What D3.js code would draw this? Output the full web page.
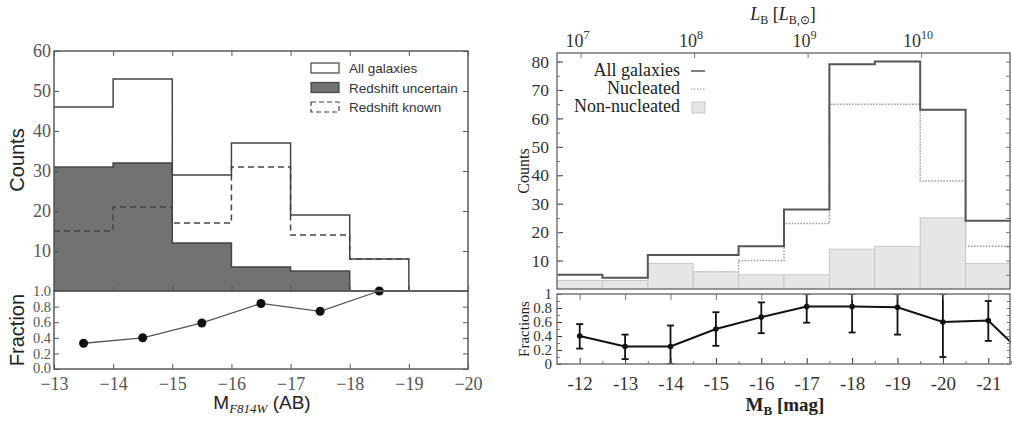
<!DOCTYPE html>
<html>
<head>
<meta charset="utf-8">
<script src="https://cdn.jsdelivr.net/npm/d3@7"></script>
<style>
  body { margin: 0; background: #fff; }
  svg text { font-family: "Liberation Serif", serif; }
</style>
</head>
<body>
<svg id="chart" width="1012" height="423"></svg>
<script>
// ---- left panel data (M_F814W) ----
const leftEdges = [-13, -14, -15, -16, -17, -18, -19];
const leftAll = [46, 53, 29, 37, 19, 8];
const leftUncertain = [31, 32, 12, 6, 5, 0];
const leftKnown = [15, 21, 17, 31, 14, 8];
const leftFracMag = [-13.5, -14.5, -15.5, -16.5, -17.5, -18.5];
const leftFrac = [0.33, 0.40, 0.59, 0.84, 0.74, 1.0];
const leftCountTicks = [10, 20, 30, 40, 50, 60];
const leftFracTicks = [0, 0.2, 0.4, 0.6, 0.8, 1.0];
const leftMagTicks = [-13, -14, -15, -16, -17, -18, -19, -20];

// ---- right panel data (M_B) ----
const rightEdges = [-11.5, -12.5, -13.5, -14.5, -15.5, -16.5, -17.5, -18.5, -19.5, -20.5, -21.5];
const rightAll = [5, 4, 12, 12, 15, 28, 79, 80, 63, 24];
const rightNuc = [2, 1, 3, 6, 10, 23, 65, 65, 38, 15];
const rightNonNuc = [3, 3, 9, 6, 5, 5, 14, 15, 25, 9];
const rightFracMag = [-12, -13, -14, -15, -16, -17, -18, -19, -20, -21, -22];
const rightFrac = [0.40, 0.25, 0.25, 0.50, 0.67, 0.82, 0.82, 0.81, 0.60, 0.62, 0.0];
const rightErrLo = [0.22, 0.07, 0.0, 0.26, 0.44, 0.59, 0.45, 0.42, 0.10, 0.33];
const rightErrHi = [0.57, 0.42, 0.55, 0.74, 0.88, 1.0, 1.0, 1.0, 1.0, 0.90];
const rightCountTicks = [10, 20, 30, 40, 50, 60, 70, 80];
const rightFracTicks = [0, 0.2, 0.4, 0.6, 0.8, 1];
const rightMagTicks = [-12, -13, -14, -15, -16, -17, -18, -19, -20, -21];
const lumDecades = [7, 8, 9, 10];
const magSunB = 5.48;

const svg = d3.select("#chart");

// turns bin edges + counts into the corner points of a step outline
function stepPoints(edges, vals) {
  let pts = [];
  vals.forEach((v, i) => {
    pts.push([edges[i], v]);
    pts.push([edges[i + 1], v]);
  });
  return pts;
}

function styleAxis(g, size, color) {
  g.select(".domain").remove();
  g.selectAll("line").attr("stroke", color);
  g.selectAll("text")
    .attr("font-family", "Liberation Serif, serif")
    .attr("font-size", size)
    .attr("fill", color);
}

// ================= LEFT PANEL =================
const xL = d3.scaleLinear().domain([-13, -20]).range([54, 468]);
const yLtop = d3.scaleLinear().domain([0, 60]).range([291, 51]);
const yLbot = d3.scaleLinear().domain([0, 1]).range([369, 291]);
const leftInk = "#444";
const leftFrame = "#5a5a5a";

svg.append("clipPath").attr("id", "clipLtop")
  .append("rect").attr("x", 54).attr("y", 51).attr("width", 414).attr("height", 240);

const lineL = d3.line().x(d => xL(d[0])).y(d => yLtop(d[1]));
const areaL = d3.area().x(d => xL(d[0])).y0(yLtop(0)).y1(d => yLtop(d[1]));

let gLt = svg.append("g").attr("clip-path", "url(#clipLtop)");
gLt.append("path")
  .attr("d", areaL(stepPoints(leftEdges, leftUncertain)))
  .attr("fill", "#727272").attr("stroke", leftInk).attr("stroke-width", 1.5);
gLt.append("path")
  .attr("d", lineL(stepPoints(leftEdges, leftKnown)))
  .attr("fill", "none").attr("stroke", leftInk).attr("stroke-width", 1.5)
  .attr("stroke-dasharray", "6,4");
let allPts = stepPoints(leftEdges, leftAll);
allPts.push([leftEdges[leftEdges.length - 1], 0]);
gLt.append("path")
  .attr("d", lineL(allPts))
  .attr("fill", "none").attr("stroke", leftInk).attr("stroke-width", 1.5);

// fraction line
svg.append("path")
  .attr("d", d3.line().x((d, i) => xL(leftFracMag[i])).y(d => yLbot(d))(leftFrac))
  .attr("fill", "none").attr("stroke", "#555").attr("stroke-width", 1.3);
svg.selectAll("circle.lf").data(leftFrac).enter().append("circle")
  .attr("class", "lf")
  .attr("cx", (d, i) => xL(leftFracMag[i]))
  .attr("cy", d => yLbot(d))
  .attr("r", 4.5).attr("fill", "#111");

// axes
let gAx = svg.append("g").attr("transform", "translate(54,0)")
  .call(d3.axisLeft(yLtop).tickValues(leftCountTicks).tickSize(-5).tickPadding(3));
styleAxis(gAx, 18, "#555");
gAx = svg.append("g").attr("transform", "translate(468,0)")
  .call(d3.axisRight(yLtop).tickValues(leftCountTicks).tickSize(-5).tickFormat(""));
styleAxis(gAx, 18, leftFrame);
gAx = svg.append("g").attr("transform", "translate(54,0)")
  .call(d3.axisLeft(yLbot).tickValues(leftFracTicks).tickSize(-5).tickPadding(3)
    .tickFormat(d3.format(".1f")));
styleAxis(gAx, 14.5, "#555");
gAx.selectAll("text").attr("dy", d => d === 0 ? "0.22em" : "0.32em");
gAx = svg.append("g").attr("transform", "translate(468,0)")
  .call(d3.axisRight(yLbot).tickValues(leftFracTicks).tickSize(-5).tickFormat(""));
styleAxis(gAx, 18, leftFrame);
gAx = svg.append("g").attr("transform", "translate(0,369)")
  .call(d3.axisBottom(xL).tickValues(leftMagTicks).tickSize(-5).tickPadding(8)
    .tickFormat(d3.format("d")));
styleAxis(gAx, 18, "#555");
gAx = svg.append("g").attr("transform", "translate(0,291)")
  .call(d3.axisBottom(xL).tickValues(leftMagTicks).tickSize(-5).tickFormat(""));
styleAxis(gAx, 18, leftFrame);
gAx = svg.append("g").attr("transform", "translate(0,51)")
  .call(d3.axisTop(xL).tickValues(leftMagTicks).tickSize(-5).tickFormat(""));
styleAxis(gAx, 18, leftFrame);

// frames
svg.append("rect").attr("x", 54).attr("y", 51).attr("width", 414).attr("height", 240)
  .attr("fill", "none").attr("stroke", leftFrame).attr("stroke-width", 1.5);
svg.append("rect").attr("x", 54).attr("y", 291).attr("width", 414).attr("height", 78)
  .attr("fill", "none").attr("stroke", leftFrame).attr("stroke-width", 1.5);

// legend
const legL = [
  {label: "All galaxies", fill: "#fff", dash: null},
  {label: "Redshift uncertain", fill: "#727272", dash: null},
  {label: "Redshift known", fill: "none", dash: "5,3"}
];
legL.forEach((d, i) => {
  let y = 68 + i * 19.5;
  svg.append("rect").attr("x", 311).attr("y", y - 5).attr("width", 28).attr("height", 10)
    .attr("fill", d.fill).attr("stroke", leftInk).attr("stroke-width", 1.2)
    .attr("stroke-dasharray", d.dash);
  svg.append("text").attr("x", 349).attr("y", y + 5)
    .style("font-family", "Liberation Sans, sans-serif").attr("font-size", 13.5)
    .attr("fill", "#333").text(d.label);
});

// axis titles
svg.append("text").attr("transform", "translate(24,160) rotate(-90)")
  .attr("text-anchor", "middle").style("font-family", "Liberation Sans, sans-serif")
  .attr("font-size", 20).attr("fill", "#222").text("Counts");
svg.append("text").attr("transform", "translate(24,330) rotate(-90)")
  .attr("text-anchor", "middle").style("font-family", "Liberation Sans, sans-serif")
  .attr("font-size", 20).attr("fill", "#222").text("Fraction");
let tM = svg.append("text").attr("x", 262).attr("y", 409).attr("text-anchor", "middle")
  .style("font-family", "Liberation Sans, sans-serif").attr("font-size", 19).attr("fill", "#222");
tM.append("tspan").text("M");
tM.append("tspan").attr("dy", 4).style("font-family", "Liberation Serif, serif")
  .attr("font-style", "italic").attr("font-size", 13).text("F814W");
tM.append("tspan").attr("dy", -4).text(" (AB)");

// ================= RIGHT PANEL =================
const xR = d3.scaleLinear().domain([-11.5, -21.5]).range([557, 1011]);
const yRtop = d3.scaleLinear().domain([0, 83]).range([289, 53]);
const yRbot = d3.scaleLinear().domain([0, 1]).range([364, 294]);
const rightFrame = "#777";
const rightInk = "#555";

svg.append("clipPath").attr("id", "clipRtop")
  .append("rect").attr("x", 557).attr("y", 53).attr("width", 454).attr("height", 236);
svg.append("clipPath").attr("id", "clipRbot")
  .append("rect").attr("x", 557).attr("y", 294).attr("width", 454).attr("height", 70);

const lineR = d3.line().x(d => xR(d[0])).y(d => yRtop(d[1]));
let gRt = svg.append("g").attr("clip-path", "url(#clipRtop)");
gRt.append("path")
  .attr("d", lineR(stepPoints(rightEdges, rightNuc)))
  .attr("fill", "none").attr("stroke", "#999").attr("stroke-width", 1.5)
  .attr("stroke-dasharray", "1.5,1.5");
gRt.selectAll("rect.nn").data(rightNonNuc).enter().append("rect")
  .attr("class", "nn")
  .attr("x", (d, i) => xR(rightEdges[i]))
  .attr("y", d => yRtop(d))
  .attr("width", (d, i) => xR(rightEdges[i + 1]) - xR(rightEdges[i]))
  .attr("height", d => yRtop(0) - yRtop(d))
  .attr("fill", "#e6e6e6").attr("stroke", "#c8c8c8").attr("stroke-width", 1);
gRt.append("path")
  .attr("d", lineR(stepPoints(rightEdges, rightAll)))
  .attr("fill", "none").attr("stroke", rightInk).attr("stroke-width", 2);

// fractions with error bars
let gRb = svg.append("g").attr("clip-path", "url(#clipRbot)");
gRb.append("path")
  .attr("d", d3.line().x((d, i) => xR(rightFracMag[i])).y(d => yRbot(d))(rightFrac))
  .attr("fill", "none").attr("stroke", "#111").attr("stroke-width", 2);
rightErrLo.forEach((lo, i) => {
  let x = xR(rightFracMag[i]);
  gRb.append("line").attr("x1", x).attr("x2", x)
    .attr("y1", yRbot(lo)).attr("y2", yRbot(rightErrHi[i]))
    .attr("stroke", "#111").attr("stroke-width", 1.8);
  [lo, rightErrHi[i]].forEach(v => {
    gRb.append("line").attr("x1", x - 3.5).attr("x2", x + 3.5)
      .attr("y1", yRbot(v)).attr("y2", yRbot(v))
      .attr("stroke", "#111").attr("stroke-width", 1.8);
  });
  gRb.append("circle").attr("cx", x).attr("cy", yRbot(rightFrac[i])).attr("r", 2.8)
    .attr("fill", "#111");
});

// axes
const rightMinorCounts = d3.range(5, 83, 5);
gAx = svg.append("g").attr("transform", "translate(557,0)")
  .call(d3.axisLeft(yRtop).tickValues(rightCountTicks).tickSize(-6).tickPadding(8)
    .tickFormat(d3.format("d")));
styleAxis(gAx, 17.5, "#333");
gAx = svg.append("g").attr("transform", "translate(557,0)")
  .call(d3.axisLeft(yRtop).tickValues(rightMinorCounts).tickSize(-3).tickFormat(""));
styleAxis(gAx, 17, rightFrame);
gAx = svg.append("g").attr("transform", "translate(1010,0)")
  .call(d3.axisRight(yRtop).tickValues(rightMinorCounts).tickSize(-4).tickFormat(""));
styleAxis(gAx, 17, rightFrame);

gAx = svg.append("g").attr("transform", "translate(557,0)")
  .call(d3.axisLeft(yRbot).tickValues(rightFracTicks).tickSize(-5).tickPadding(5)
    .tickFormat(d => d === 0 || d === 1 ? String(d) : d3.format(".1f")(d)));
styleAxis(gAx, 15, "#333");
gAx.selectAll("text").attr("dy", "0.30em");
gAx = svg.append("g").attr("transform", "translate(557,0)")
  .call(d3.axisLeft(yRbot).tickValues(d3.range(0.1, 1, 0.2)).tickSize(-3).tickFormat(""));
styleAxis(gAx, 16, rightFrame);
gAx = svg.append("g").attr("transform", "translate(1010,0)")
  .call(d3.axisRight(yRbot).tickValues(d3.range(0, 1.01, 0.1)).tickSize(-3).tickFormat(""));
styleAxis(gAx, 16, rightFrame);

gAx = svg.append("g").attr("transform", "translate(0,364)")
  .call(d3.axisBottom(xR).tickValues(rightMagTicks).tickSize(-6).tickPadding(13)
    .tickFormat(d => String(d)));
styleAxis(gAx, 19, "#333");
gAx = svg.append("g").attr("transform", "translate(0,364)")
  .call(d3.axisBottom(xR).tickValues(d3.range(-12.5, -21.6, -1)).tickSize(-3).tickFormat(""));
styleAxis(gAx, 19, rightFrame);
gAx = svg.append("g").attr("transform", "translate(0,294)")
  .call(d3.axisTop(xR).tickValues(rightMagTicks).tickSize(-6).tickFormat(""));
styleAxis(gAx, 19, rightFrame);

// top luminosity axis
const xLum = d3.scaleLinear()
  .domain([(magSunB - (-11.5)) / 2.5, (magSunB - (-21.5)) / 2.5])
  .range([557, 1011]);
gAx = svg.append("g").attr("transform", "translate(0,53)")
  .call(d3.axisTop(xLum).tickValues(lumDecades).tickSize(-5).tickPadding(6).tickFormat(""));
styleAxis(gAx, 17, rightFrame);
lumDecades.forEach(p => {
  let t = svg.append("text").attr("x", xLum(p) - 3).attr("y", 47)
    .attr("text-anchor", "middle").attr("font-size", 18).attr("fill", "#333");
  t.append("tspan").text("10");
  t.append("tspan").attr("dy", -8).attr("font-size", 12).text(p);
});

// frames
svg.append("rect").attr("x", 557).attr("y", 53).attr("width", 453).attr("height", 236)
  .attr("fill", "none").attr("stroke", rightFrame).attr("stroke-width", 1.5);
svg.append("rect").attr("x", 557).attr("y", 294).attr("width", 453).attr("height", 70)
  .attr("fill", "none").attr("stroke", rightFrame).attr("stroke-width", 1.5);

// legend
const legR = ["All galaxies", "Nucleated", "Non-nucleated"];
legR.forEach((label, i) => {
  let y = 71 + i * 18;
  svg.append("text").attr("x", 680).attr("y", y + 5).attr("text-anchor", "end")
    .attr("font-size", 18).attr("fill", "#222").text(label);
});
svg.append("line").attr("x1", 691).attr("x2", 705).attr("y1", 71).attr("y2", 71)
  .attr("stroke", rightInk).attr("stroke-width", 1.5);
svg.append("line").attr("x1", 691).attr("x2", 705).attr("y1", 89).attr("y2", 89)
  .attr("stroke", "#999").attr("stroke-width", 1.2).attr("stroke-dasharray", "1.5,1.5");
svg.append("rect").attr("x", 692).attr("y", 102).attr("width", 13).attr("height", 11)
  .attr("fill", "#e6e6e6").attr("stroke", "#c8c8c8");

// titles
svg.append("text").attr("transform", "translate(529,171) rotate(-90)")
  .attr("text-anchor", "middle").attr("font-size", 16).attr("fill", "#222").text("Counts");
svg.append("text").attr("transform", "translate(529,329) rotate(-90)")
  .attr("text-anchor", "middle").attr("font-size", 15).attr("fill", "#222").text("Fractions");
let tMB = svg.append("text").attr("x", 785).attr("y", 411).attr("text-anchor", "middle")
  .attr("font-size", 19).attr("font-weight", "bold").attr("fill", "#222");
tMB.append("tspan").text("M");
tMB.append("tspan").attr("dy", 4).attr("font-size", 13).text("B");
tMB.append("tspan").attr("dy", -4).text(" [mag]");
let tL = svg.append("text").attr("x", 783).attr("y", 20).attr("text-anchor", "middle")
  .attr("font-size", 18).attr("fill", "#222");
tL.append("tspan").attr("font-style", "italic").text("L");
tL.append("tspan").attr("dy", 4).attr("font-size", 12).text("B");
tL.append("tspan").attr("dy", -4).text(" [");
tL.append("tspan").attr("font-style", "italic").text("L");
tL.append("tspan").attr("dy", 4).attr("font-size", 12).text("B,\u2299");
tL.append("tspan").attr("dy", -4).text("]");
</script>
</body>
</html>
